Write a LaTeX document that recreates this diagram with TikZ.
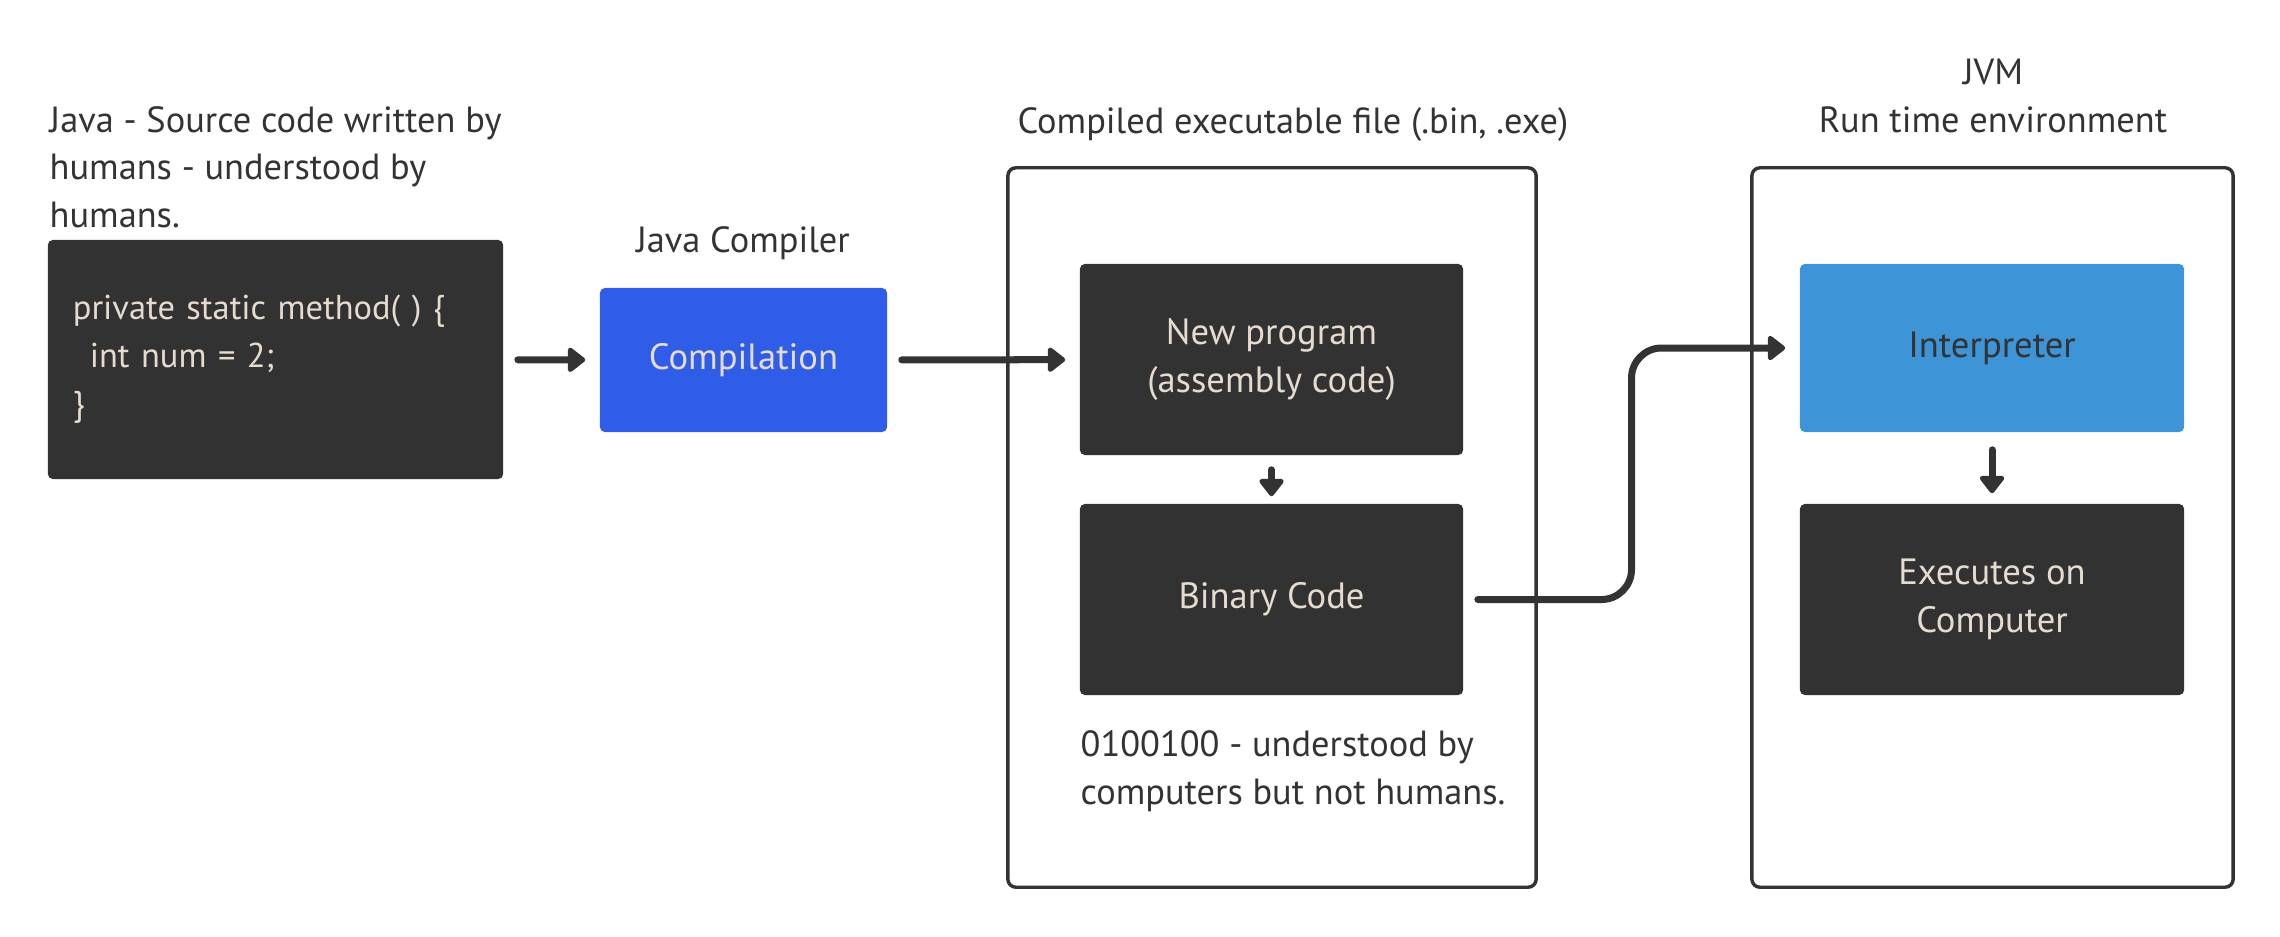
\documentclass[tikz,border=0pt]{standalone}
\usepackage{fontspec}
\setmainfont{PT Sans}
\usetikzlibrary{calc,arrows.meta}
\definecolor{boxdark}{HTML}{323232}
\definecolor{compblue}{HTML}{2F5DE8}
\definecolor{interpblue}{HTML}{3D94D7}
\definecolor{beige}{HTML}{E6DBCF}
\definecolor{inkdark}{HTML}{333333}
\tikzset{
  darkbox/.style={fill=boxdark, rounded corners=0.05cm, text=beige, align=center,
    minimum width=3.83cm, minimum height=1.91cm, font=\fontsize{10.4pt}{13.6pt}\selectfont},
  framebox/.style={draw=inkdark, line width=0.034cm, rounded corners=0.08cm,
    minimum width=#1, minimum height=7.19cm},
  label/.style={text=inkdark, inner sep=0pt, font=\fontsize{10.35pt}{13.5pt}\selectfont},
  conn/.style={draw=inkdark, line width=0.07cm, line cap=round,
    -{Triangle[length=0.19cm,width=0.28cm,round]}, shorten <=0.14cm, shorten >=0.14cm}
}
\begin{document}
\begin{tikzpicture}[x=0.01cm,y=-0.01cm]
    \useasboundingbox (0,0) rectangle (2280,936);
    % outer frames
    \node (Exe) at (1272,527.5) [framebox=5.28cm] {};
    \node (Jvm) at (1992.5,527.5) [framebox=4.81cm] {};
    % texts above (base = last line)
    \node (SrcNote) at (49,227) [label, anchor=base west, align=left]
      {Java - Source code written by\\humans - understood by\\humans.};
    \node (CompLbl) at (743,252) [label, anchor=base] {Java Compiler};
    \node (ExeLbl) at (1293,133) [label, anchor=base] {Compiled executable file (.bin, .exe)};
    \node (JvmLbl) at (1993,132) [label, anchor=base, align=center] {JVM\\Run time environment};
    \node (BinNote) at (1080,804) [label, anchor=base west, align=left]
      {0100100 - understood by\\computers but not humans.};
    % boxes
    \node (Code) at (275.5,359.5) [darkbox, minimum width=4.55cm, minimum height=2.39cm,
      text width=4.05cm, inner xsep=0.25cm, align=left, font=\fontsize{9.8pt}{13.6pt}\selectfont]
      {private static method( ) \{\\\hspace*{0.17cm}int num = 2;\\\}};
    \node (Compile) at (743.5,360) [darkbox, fill=compblue, minimum width=2.87cm, minimum height=1.44cm] {Compilation};
    \node (NewProg) at (1271.5,359.5) [darkbox] {New program\\(assembly code)};
    \node (Binary) at (1271.5,599.5) [darkbox] {Binary Code};
    \node (Interp) at (1992,348) [darkbox, fill=interpblue, text=inkdark, minimum width=3.84cm, minimum height=1.68cm] {Interpreter};
    \node (Execs) at (1992,599.5) [darkbox, minimum width=3.84cm] {Executes on\\Computer};
    % connectors
    \draw[conn] (Code) to (Compile);
    \draw[conn] (Compile) to (NewProg);
    \draw[conn, shorten >=0.07cm] (NewProg) to (Binary);
    \draw[conn, shorten <=0.17cm, shorten >=0.1cm] (Interp) to (Execs);
    \draw[conn, rounded corners=0.3cm]
    (Binary.east) -| ($(Binary.east)!0.5!(Interp.west)$) |- (Interp.west);
  \end{tikzpicture}
\end{document}
